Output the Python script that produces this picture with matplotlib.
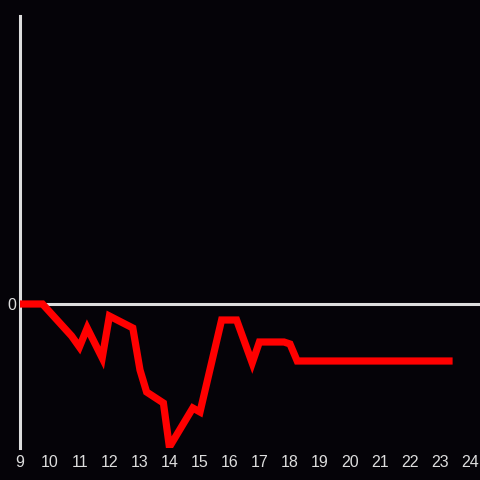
import matplotlib

matplotlib.use("Agg")
import matplotlib.pyplot as plt

plt.rcParams["font.family"] = ["Liberation Sans", "DejaVu Sans"]

# hour of day vs value
hours = [9.0, 9.75, 10.72, 10.98, 11.24, 11.74, 11.98, 12.76, 13.0, 13.22,
         13.78, 13.98, 14.76, 15.0, 15.72, 16.22, 16.74, 16.98, 17.8, 18.0,
         18.24, 23.3]
values = [0, 0, -32, -43, -24, -54, -12, -24, -66, -88,
          -99, -143, -104, -108, -16, -16, -59, -38, -38, -40,
          -57, -57]
xticks = list(range(9, 25))

bg = "#050308"
fg = "#dddddd"

fig = plt.figure(figsize=(4.8, 4.8), dpi=100, facecolor=bg)
ax = fig.add_axes([20 / 480, 32 / 480, 460 / 480, 432 / 480], facecolor=bg)

ax.axhline(0, color=fg, lw=2.2, zorder=1)
ax.plot(hours, values, color="#ff0000", lw=5.2, solid_joinstyle="miter", zorder=3)

ax.set_xlim(9, 9 + 460 / 30)
ax.set_ylim(-144, 288)
ax.set_xticks(xticks)
ax.set_yticks([0])

for s in ["top", "right", "bottom"]:
    ax.spines[s].set_visible(False)
ax.spines["left"].set_color(fg)
ax.spines["left"].set_linewidth(2.2)

ax.tick_params(length=0, colors=fg, labelsize=11.5)
ax.tick_params(axis="x", pad=5)
ax.tick_params(axis="y", pad=3)

fig.savefig("out.png", dpi=100, facecolor=bg)
